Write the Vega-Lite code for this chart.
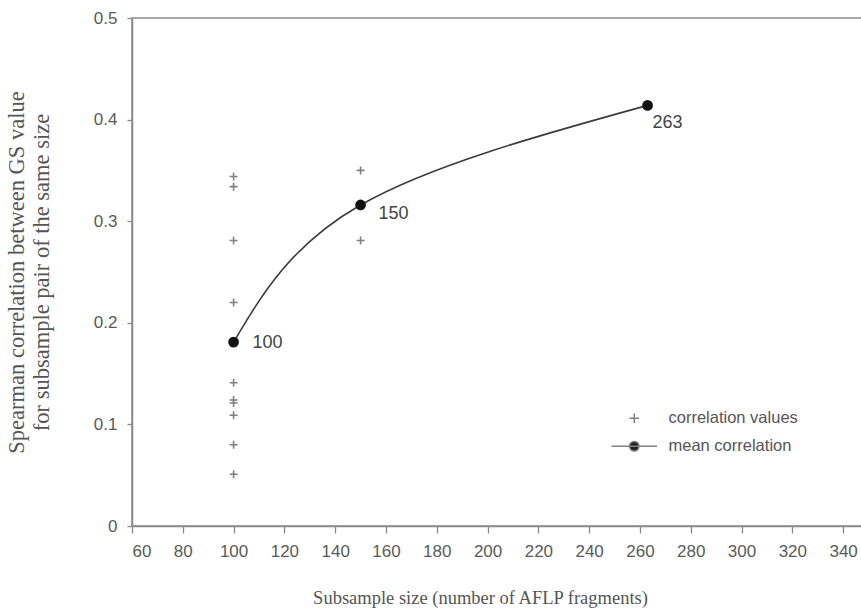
{
  "$schema": "https://vega.github.io/schema/vega-lite/v6.json",
  "width": 735,
  "height": 508,
  "autosize": {"type": "none"},
  "padding": {"left": 132, "top": 18, "right": 0, "bottom": 87},
  "background": "white",
  "config": {
    "view": {"stroke": "#8a8a8a", "strokeWidth": 1.5},
    "axis": {
      "domainColor": "#8a8a8a",
      "domainWidth": 1.5,
      "tickColor": "#8a8a8a",
      "tickWidth": 1.3,
      "grid": false,
      "labelFont": "Liberation Sans",
      "labelColor": "#5a5a5a",
      "labelFontSize": 17,
      "titleFont": "Liberation Serif",
      "titleColor": "#555",
      "titleFontWeight": "normal"
    }
  },
  "datasets": {
    "corr": [
      {"size": 100, "r": 0.344, "series": "correlation values"},
      {"size": 100, "r": 0.334, "series": "correlation values"},
      {"size": 100, "r": 0.281, "series": "correlation values"},
      {"size": 100, "r": 0.220, "series": "correlation values"},
      {"size": 100, "r": 0.141, "series": "correlation values"},
      {"size": 100, "r": 0.124, "series": "correlation values"},
      {"size": 100, "r": 0.121, "series": "correlation values"},
      {"size": 100, "r": 0.109, "series": "correlation values"},
      {"size": 100, "r": 0.080, "series": "correlation values"},
      {"size": 100, "r": 0.051, "series": "correlation values"},
      {"size": 150, "r": 0.350, "series": "correlation values"},
      {"size": 150, "r": 0.281, "series": "correlation values"}
    ],
    "means": [
      {"size": 100, "r": 0.181, "series": "mean correlation", "label": "100"},
      {"size": 150, "r": 0.316, "series": "mean correlation", "label": "150"},
      {"size": 263, "r": 0.414, "series": "mean correlation", "label": "263"}
    ]
  },
  "encoding": {
    "x": {
      "field": "size", "type": "quantitative",
      "scale": {"domain": [60, 349.4], "nice": false, "zero": false},
      "axis": {"values": [60, 80, 100, 120, 140, 160, 180, 200, 220, 240, 260, 280, 300, 320, 340], "tickSize": 7, "labelPadding": 10,
        "title": "Subsample size (number of AFLP fragments)", "titleFontSize": 18.5, "titlePadding": 29, "titleX": 348}
    },
    "y": {
      "field": "r", "type": "quantitative",
      "scale": {"domain": [0, 0.5], "nice": false},
      "axis": {"values": [0, 0.1, 0.2, 0.3, 0.4, 0.5], "format": "~g", "tickSize": 5, "labelPadding": 10,
        "title": ["Spearman correlation between GS value", "for subsample pair of the same size"], "titleFontSize": 22.5, "titleLineHeight": 25, "titlePadding": 40}
    }
  },
  "layer": [
    {
      "data": {"name": "means"},
      "mark": {"type": "line", "interpolate": "natural", "color": "#3a3a3a", "strokeWidth": 1.6}
    },
    {
      "data": {"name": "corr"},
      "mark": {"type": "point", "filled": true, "fill": "#222", "stroke": "#808080", "size": 64, "strokeWidth": 1.6, "opacity": 1},
      "encoding": {
        "shape": {
          "field": "series", "type": "nominal",
          "scale": {"domain": ["correlation values", "mean correlation"], "range": ["M-1,0L1,0M0,-1L0,1", "M-4.8,0L4.8,0M1,0A1,1,0,1,1,-1,0A1,1,0,1,1,1,0Z"]},
          "legend": {
            "orient": "none", "legendX": 494, "legendY": 392, "title": null, "padding": 0, "offset": 0,
            "symbolSize": 90, "symbolStrokeWidth": 1.5,
            "labelFont": "Liberation Sans", "labelFontSize": 16.5, "labelColor": "#555", "labelOffset": 26,
            "rowPadding": 11
          }
        }
      }
    },
    {
      "data": {"name": "means"},
      "mark": {"type": "circle", "size": 115, "color": "#111", "opacity": 1}
    },
    {
      "data": {"name": "means"},
      "transform": [{"filter": "datum.size == 100"}],
      "mark": {"type": "text", "align": "left", "baseline": "middle", "dx": 19, "dy": 1, "font": "Liberation Sans", "fontSize": 18, "color": "#444"},
      "encoding": {"text": {"field": "label"}}
    },
    {
      "data": {"name": "means"},
      "transform": [{"filter": "datum.size == 150"}],
      "mark": {"type": "text", "align": "left", "baseline": "middle", "dx": 18, "dy": 9, "font": "Liberation Sans", "fontSize": 18, "color": "#444"},
      "encoding": {"text": {"field": "label"}}
    },
    {
      "data": {"name": "means"},
      "transform": [{"filter": "datum.size > 200"}],
      "mark": {"type": "text", "align": "left", "baseline": "middle", "dx": 5, "dy": 18, "font": "Liberation Sans", "fontSize": 18, "color": "#444"},
      "encoding": {"text": {"field": "label"}}
    }
  ]
}
